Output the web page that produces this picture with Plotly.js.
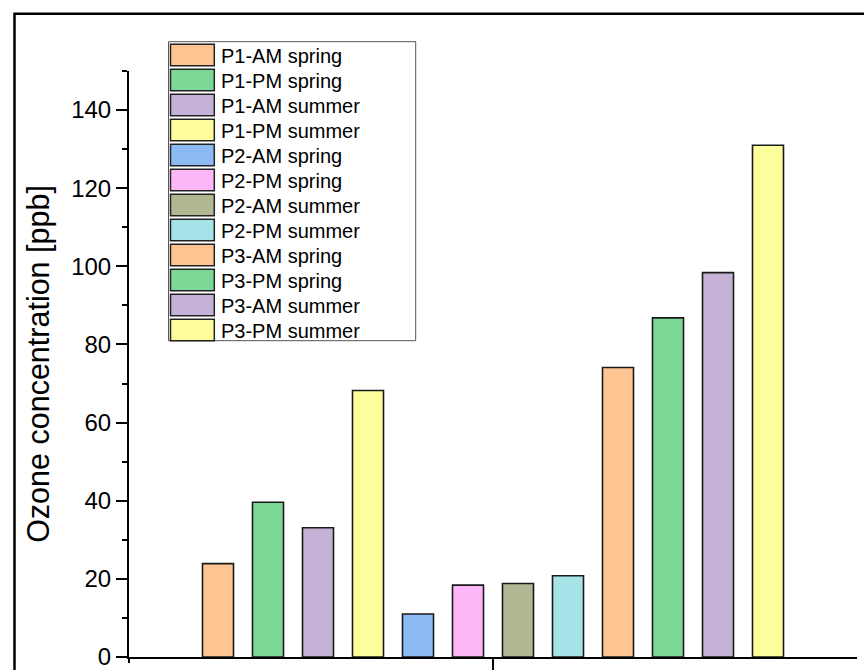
<!DOCTYPE html>
<html>
<head>
<meta charset="utf-8">
<script src="https://cdn.plot.ly/plotly-3.0.1.min.js"></script>
<style>
html,body{margin:0;padding:0;background:#fff;}
#chart{width:864px;height:670px;}
</style>
</head>
<body>
<div id="chart"></div>
<script>
// ---- data ----
const seriesNames = [
  "P1-AM spring","P1-PM spring","P1-AM summer","P1-PM summer",
  "P2-AM spring","P2-PM spring","P2-AM summer","P2-PM summer",
  "P3-AM spring","P3-PM spring","P3-AM summer","P3-PM summer"
];
const barPositions = [1,2,3,4,5,6,7,8,9,10,11,12];
const ozoneValues = [23.9, 39.6, 33.1, 68.2, 11.0, 18.4, 18.8, 20.8, 74.1, 86.8, 98.4, 131.0];
const barColors = [
  "#FEC593","#7CD897","#C6B1D6","#FDFD9C",
  "#8DBAF2","#FDB7F8","#AFB893","#A6E3E9",
  "#FEC593","#7CD897","#C6B1D6","#FDFD9C"
];
const yTickVals = [0,20,40,60,80,100,120,140];

// ---- layout helpers (pixel -> paper) ----
const W = 864, H = 670;
const mL = 129, mR = 7, mT = 71, mB = 13;
const pw = W - mL - mR, ph = H - mT - mB;
const px = x => (x - mL) / pw;
const py = y => (H - mB - y) / ph;

const FONT = "Liberation Sans, Arial, Helvetica, sans-serif";

const traces = seriesNames.map((n, i) => ({
  type: "bar",
  name: n,
  x: [barPositions[i]],
  y: [ozoneValues[i]],
  width: 0.62,
  marker: {color: barColors[i], line: {color: "#1a1a1a", width: 1.6}},
  showlegend: false,
  hoverinfo: "name+y"
}));

const shapes = [];
const annotations = [];

// outer figure frame
shapes.push({type: "rect", xref: "paper", yref: "paper",
  x0: px(14.5), x1: px(1200), y0: py(1200), y1: py(13.7),
  line: {color: "#000", width: 2.5}, fillcolor: "rgba(0,0,0,0)", layer: "above"});

// y-axis line continues slightly below zero, as in the reference
shapes.push({type: "line", xref: "paper", yref: "paper",
  x0: px(129), x1: px(129), y0: py(663), y1: py(657),
  line: {color: "#000", width: 2}, layer: "above"});

// legend box
const legL = 168.5, legR = 415.7, legT = 41.7, legB = 340.7;
shapes.push({type: "rect", xref: "paper", yref: "paper",
  x0: px(legL), x1: px(legR), y0: py(legB), y1: py(legT),
  line: {color: "#555", width: 1}, fillcolor: "#fff", layer: "above"});
const rowTop0 = 44.3, rowPitch = 25.0, swH = 21.5, swL = 170.5, swR = 214.3;
seriesNames.forEach((n, i) => {
  const t = rowTop0 + i * rowPitch;
  shapes.push({type: "rect", xref: "paper", yref: "paper",
    x0: px(swL), x1: px(swR), y0: py(t + swH), y1: py(t),
    line: {color: "#222", width: 1.5}, fillcolor: barColors[i], layer: "above"});
  annotations.push({xref: "paper", yref: "paper", x: px(219), y: py(t + swH / 2 + 0.5),
    xanchor: "left", yanchor: "middle", showarrow: false, text: n,
    font: {family: FONT, size: 20, color: "#000"}});
});

const layout = {
  width: W, height: H,
  margin: {l: mL, r: mR, t: mT, b: mB, pad: 0},
  paper_bgcolor: "#fff", plot_bgcolor: "#fff",
  font: {family: FONT, color: "#000"},
  showlegend: false,
  bargap: 0,
  xaxis: {
    range: [-0.78, 13.78],
    showgrid: false, zeroline: false,
    showline: true, linecolor: "#000", linewidth: 2,
    tickmode: "array", tickvals: [6.5], ticktext: [""],
    ticks: "outside", ticklen: 16, tickwidth: 2, tickcolor: "#000",
    showticklabels: false, fixedrange: true
  },
  yaxis: {
    range: [0, 150],
    showgrid: false, zeroline: false,
    showline: true, linecolor: "#000", linewidth: 2,
    tickmode: "array", tickvals: yTickVals,
    ticks: "outside", ticklen: 11, tickwidth: 2, tickcolor: "#000",
    ticklabeloverflow: "allow",
    minor: {tickmode: "linear", tick0: 10, dtick: 20, ticks: "outside", ticklen: 5, tickwidth: 2, tickcolor: "#000", showgrid: false},
    tickfont: {family: FONT, size: 24, color: "#000"},
    title: {text: "Ozone concentration [ppb]", font: {family: FONT, size: 30.5, color: "#000"}, standoff: 12},
    fixedrange: true
  },
  shapes: shapes,
  annotations: annotations
};

Plotly.newPlot("chart", traces, layout, {displayModeBar: false, staticPlot: true});
</script>
</body>
</html>
